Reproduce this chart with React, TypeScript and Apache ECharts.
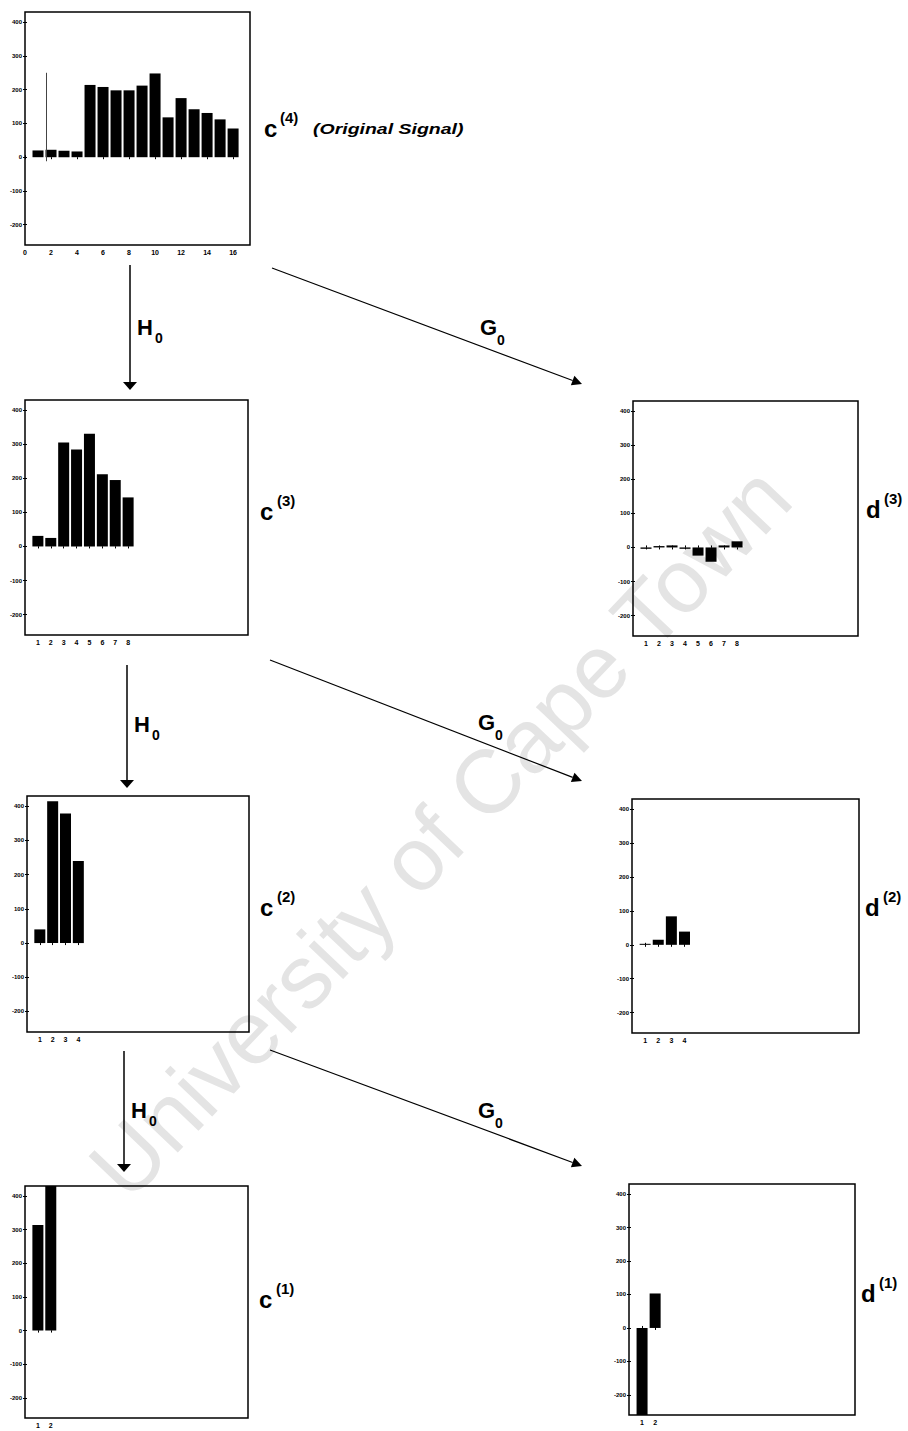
import React, { useEffect, useRef } from "react";
import * as echarts from "echarts";

// ---- data ----
const yTickValues = [-200, -100, 0, 100, 200, 300, 400];
const c4XTicks = [0, 2, 4, 6, 8, 10, 12, 14, 16];
const c4Values = [20, 22, 19, 17, 214, 208, 198, 198, 212, 248, 118, 175, 142, 131, 112, 85];
const c3Values = [31, 25, 305, 285, 331, 212, 195, 144];
const d3Values = [-4, 4, 6, -4, -24, -42, 6, 18];
const c2Values = [40, 415, 379, 240];
const d2Values = [3, 15, 84, 39];
const c1Values = [314, 460];
const d1Values = [-290, 103];
// thin scanner line in the c(4) panel: [x, yFrom, yTo]
const c4StrayLine = [1.65, -12, 250];

const Y_MIN = -260;
const Y_MAX = 430;
const X_MAX = 17.3;
const FONT = "'Liberation Sans', Arial, sans-serif";

const seq = (n: number) => Array.from({ length: n }, (_, i) => i + 1);

const panels = [
  { values: c4Values, xTicks: c4XTicks, left: 25, top: 12, width: 225, height: 233 },
  { values: c3Values, xTicks: seq(c3Values.length), left: 25, top: 400, width: 223, height: 235 },
  { values: d3Values, xTicks: seq(d3Values.length), left: 633, top: 401, width: 225, height: 235 },
  { values: c2Values, xTicks: seq(c2Values.length), left: 27, top: 796, width: 222, height: 236 },
  { values: d2Values, xTicks: seq(d2Values.length), left: 632, top: 799, width: 227, height: 234 },
  { values: c1Values, xTicks: seq(c1Values.length), left: 25, top: 1186, width: 223, height: 232 },
  { values: d1Values, xTicks: seq(d1Values.length), left: 629, top: 1184, width: 226, height: 231 },
];

function buildOption() {
  const grid: any[] = [];
  const xAxis: any[] = [];
  const yAxis: any[] = [];
  const series: any[] = [];
  panels.forEach((p, i) => {
    grid.push({
      left: p.left,
      top: p.top,
      width: p.width,
      height: p.height,
      show: true,
      borderColor: "#000",
      borderWidth: 1.5,
      backgroundColor: "transparent",
      containLabel: false,
    });
    const tickStyle = { show: true, inside: true, length: 2, lineStyle: { color: "#000", width: 1 } };
    const labelBase = { color: "#000", fontSize: 7, fontWeight: "bold", fontFamily: FONT };
    xAxis.push({
      type: "value",
      gridIndex: i,
      min: 0,
      max: X_MAX,
      position: "bottom",
      axisLine: { show: false },
      splitLine: { show: false },
      axisTick: { ...tickStyle, customValues: p.xTicks },
      axisLabel: { ...labelBase, customValues: p.xTicks, margin: 4 },
    });
    xAxis.push({
      type: "value",
      gridIndex: i,
      min: 0,
      max: X_MAX,
      position: "top",
      axisLine: { show: false },
      splitLine: { show: false },
      axisTick: { ...tickStyle, customValues: p.xTicks },
      axisLabel: { show: false },
    });
    yAxis.push({
      type: "value",
      gridIndex: i,
      min: Y_MIN,
      max: Y_MAX,
      position: "left",
      axisLine: { show: false },
      splitLine: { show: false },
      axisTick: { ...tickStyle, customValues: yTickValues },
      axisLabel: { ...labelBase, fontSize: 6, customValues: yTickValues, margin: 3 },
    });
    yAxis.push({
      type: "value",
      gridIndex: i,
      min: Y_MIN,
      max: Y_MAX,
      position: "right",
      axisLine: { show: false },
      splitLine: { show: false },
      axisTick: { ...tickStyle, customValues: yTickValues },
      axisLabel: { show: false },
    });
    const s: any = {
      type: "bar",
      xAxisIndex: i * 2,
      yAxisIndex: i * 2,
      data: p.values.map((v, k) => [k + 1, v]),
      barWidth: 11,
      itemStyle: { color: "#000" },
      clip: true,
      silent: true,
    };
    if (i === 0) {
      s.markLine = {
        symbol: "none",
        silent: true,
        label: { show: false },
        lineStyle: { color: "#444", width: 1, type: "solid" },
        data: [[{ coord: [c4StrayLine[0], c4StrayLine[2]] }, { coord: [c4StrayLine[0], c4StrayLine[1]] }]],
      };
    }
    series.push(s);
  });

  const bold = (text: string, x: number, y: number, size: number, extra: any = {}) => ({
    type: "text",
    x,
    y,
    style: {
      text,
      fill: "#000",
      font: `bold ${size}px ${FONT}`,
      textAlign: "left",
      textVerticalAlign: "middle",
      ...extra,
    },
  });

  const label = (letter: string, sup: string, x: number, y: number, supX: number) => [
    bold(letter, x, y, 24),
    bold(sup, supX, y - 11, 15),
  ];

  const hArrow = (x: number, y1: number, y2: number) => [
    { type: "line", shape: { x1: x, y1, x2: x, y2: y2 - 6 }, style: { stroke: "#000", lineWidth: 1.5 } },
    {
      type: "polygon",
      shape: { points: [[x - 7, y2 - 8], [x + 7, y2 - 8], [x, y2]] },
      style: { fill: "#000" },
    },
  ];

  const gArrow = (x1: number, y1: number, x2: number, y2: number) => {
    const dx = x2 - x1;
    const dy = y2 - y1;
    const len = Math.sqrt(dx * dx + dy * dy);
    const ux = dx / len;
    const uy = dy / len;
    const bx = x2 - ux * 10;
    const by = y2 - uy * 10;
    return [
      { type: "line", shape: { x1, y1, x2: bx, y2: by }, style: { stroke: "#000", lineWidth: 1.2 } },
      {
        type: "polygon",
        shape: {
          points: [
            [bx - uy * 5, by + ux * 5],
            [bx + uy * 5, by - ux * 5],
            [x2, y2],
          ],
        },
        style: { fill: "#000" },
      },
    ];
  };

  const graphic: any[] = [
    {
      type: "text",
      x: 440,
      y: 832,
      rotation: 0.81,
      z: -10,
      silent: true,
      style: {
        text: "University of Cape Town",
        fill: "#e4e4e4",
        font: `90px ${FONT}`,
        textAlign: "center",
        textVerticalAlign: "middle",
      },
    },
    ...label("c", "(4)", 264, 128, 280),
    {
      type: "text",
      x: 313,
      y: 129,
      scaleX: 1.3,
      style: {
        text: "(Original Signal)",
        fill: "#000",
        font: `italic bold 15px ${FONT}`,
        textAlign: "left",
        textVerticalAlign: "middle",
      },
    },
    ...label("c", "(3)", 260, 511, 277),
    ...label("d", "(3)", 866, 509, 884),
    ...label("c", "(2)", 260, 907, 277),
    ...label("d", "(2)", 865, 907, 883),
    ...label("c", "(1)", 259, 1299, 276),
    ...label("d", "(1)", 861, 1293, 879),
    // H0 arrows
    ...hArrow(130, 265, 390),
    bold("H", 137, 327, 22),
    bold("0", 155, 338, 14),
    ...hArrow(127, 665, 788),
    bold("H", 134, 724, 22),
    bold("0", 152, 735, 14),
    ...hArrow(124, 1051, 1172),
    bold("H", 131, 1110, 22),
    bold("0", 149, 1121, 14),
    // G0 arrows
    ...gArrow(272, 268, 582, 384),
    bold("G", 480, 327, 22),
    bold("0", 497, 340, 14),
    ...gArrow(270, 660, 582, 781),
    bold("G", 478, 722, 22),
    bold("0", 495, 735, 14),
    ...gArrow(270, 1050, 582, 1166),
    bold("G", 478, 1110, 22),
    bold("0", 495, 1123, 14),
  ];

  return {
    animation: false,
    backgroundColor: "#fff",
    grid,
    xAxis,
    yAxis,
    series,
    graphic,
  };
}

export default function App() {
  const ref = useRef<HTMLDivElement>(null);
  useEffect(() => {
    if (!ref.current) return;
    const chart = echarts.init(ref.current, null, { renderer: "svg" });
    chart.setOption(buildOption() as any);
    return () => chart.dispose();
  }, []);
  return (
    <div
      ref={ref}
      style={{ position: "absolute", left: 0, top: 0, width: 908, height: 1431, background: "#fff" }}
    />
  );
}
